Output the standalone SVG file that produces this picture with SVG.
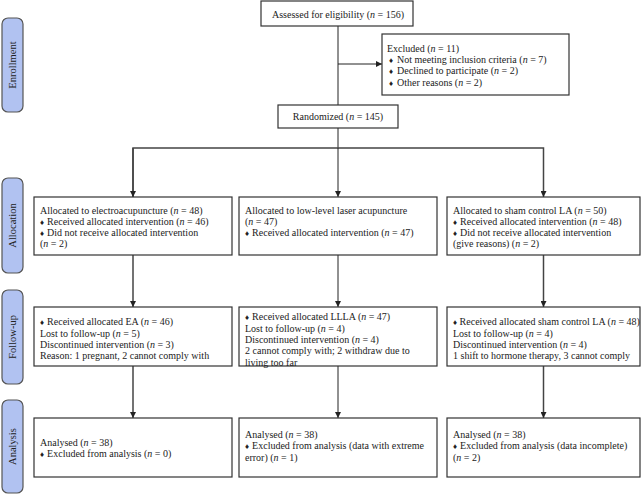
<svg xmlns="http://www.w3.org/2000/svg" width="644" height="495" viewBox="0 0 644 495">
<defs>
<marker id="ah" viewBox="0 0 10 10" refX="10" refY="5" markerWidth="6" markerHeight="6" markerUnits="userSpaceOnUse" orient="auto">
<path d="M0,0 L10,5 L0,10 z" fill="#222"/>
</marker>
<style>
.box{fill:#fff;stroke:#333;stroke-width:1.2}
.lab{fill:#b1c2f1;stroke:#555;stroke-width:1.2}
.t{font-family:"Liberation Serif","Times New Roman",serif;font-size:10px;fill:#222}
.lt{font-family:"Liberation Serif","Times New Roman",serif;font-size:10.5px;fill:#222}
.i{font-style:italic}
.d{font-size:8px}
.c{stroke:#222;stroke-width:1;fill:none}
.co{stroke:#444;stroke-width:1.5;fill:none}
</style>
</defs>
<rect width="644" height="495" fill="#fff"/>

<g id="label-enrollment"><rect class="lab" x="2" y="18" width="21" height="94" rx="6"/><text class="lt" transform="translate(16,65) rotate(-90)" text-anchor="middle">Enrollment</text></g>
<g id="label-allocation"><rect class="lab" x="2" y="178" width="21" height="95" rx="6"/><text class="lt" transform="translate(16,225.5) rotate(-90)" text-anchor="middle">Allocation</text></g>
<g id="label-followup"><rect class="lab" x="2" y="290" width="21" height="94" rx="6"/><text class="lt" transform="translate(16,337) rotate(-90)" text-anchor="middle">Follow-up</text></g>
<g id="label-analysis"><rect class="lab" x="2" y="400" width="21" height="93" rx="6"/><text class="lt" transform="translate(16,446.5) rotate(-90)" text-anchor="middle">Analysis</text></g>

<g id="connectors">
<path class="c" d="M338,26 V105"/>
<path class="c" d="M338,64 H382" marker-end="url(#ah)"/>
<path class="c" d="M338,128 V148"/>
<path class="co" d="M133,197 V148 H543.5 V197" marker-end="url(#ah)"/>
<path class="co" d="M133,148 V197" marker-end="url(#ah)"/>
<path class="c" d="M338,148 V197" marker-end="url(#ah)"/>
<path class="co" d="M133,255 V307" marker-end="url(#ah)"/>
<path class="c" d="M338,255 V307" marker-end="url(#ah)"/>
<path class="co" d="M543.5,255 V307" marker-end="url(#ah)"/>
<path class="co" d="M133,366 V418" marker-end="url(#ah)"/>
<path class="c" d="M338,366 V418" marker-end="url(#ah)"/>
<path class="co" d="M543.5,366 V418" marker-end="url(#ah)"/>
</g>

<g id="assessed"><rect class="box" x="261" y="1" width="152" height="25"/><text class="t" x="338" y="17.5" text-anchor="middle">Assessed for eligibility (<tspan class="i">n</tspan> = 156)</text></g>

<g id="excluded"><rect class="box" x="382" y="34" width="187" height="61"/>
<text class="t" x="387" y="52">Excluded (<tspan class="i">n</tspan> = 11)</text>
<text class="t" x="389" y="63"><tspan class="d">♦ </tspan><tspan dx="2">Not meeting inclusion criteria (</tspan><tspan class="i">n</tspan> = 7)</text>
<text class="t" x="389" y="74"><tspan class="d">♦ </tspan><tspan dx="2">Declined to participate (</tspan><tspan class="i">n</tspan> = 2)</text>
<text class="t" x="389" y="85.5"><tspan class="d">♦ </tspan><tspan dx="2">Other reasons (</tspan><tspan class="i">n</tspan> = 2)</text>
</g>

<g id="randomized"><rect class="box" x="278" y="105" width="120" height="23"/><text class="t" x="338" y="120" text-anchor="middle">Randomized (<tspan class="i">n</tspan> = 145)</text></g>

<g id="alloc-ea"><rect class="box" x="34" y="197" width="198" height="58"/>
<text class="t" x="40" y="213.5">Allocated to electroacupuncture (<tspan class="i">n</tspan> = 48)</text>
<text class="t" x="40" y="224.5"><tspan class="d">♦ </tspan><tspan dx="1">Received allocated intervention (</tspan><tspan class="i">n</tspan> = 46)</text>
<text class="t" x="40" y="235.5"><tspan class="d">♦ </tspan><tspan dx="1">Did not receive allocated intervention</tspan></text>
<text class="t" x="40" y="246.5">(<tspan class="i">n</tspan> = 2)</text>
</g>
<g id="alloc-llla"><rect class="box" x="239" y="197" width="198" height="58"/>
<text class="t" x="245" y="213.5">Allocated to low-level laser acupuncture</text>
<text class="t" x="245" y="224.5">(<tspan class="i">n</tspan> = 47)</text>
<text class="t" x="245" y="235.5"><tspan class="d">♦ </tspan><tspan dx="1">Received allocated intervention (</tspan><tspan class="i">n</tspan> = 47)</text>
</g>
<g id="alloc-sham"><rect class="box" x="447" y="197" width="193" height="58"/>
<text class="t" x="453" y="213.5">Allocated to sham control LA (<tspan class="i">n</tspan> = 50)</text>
<text class="t" x="453" y="224.5"><tspan class="d">♦ </tspan><tspan dx="1">Received allocated intervention (</tspan><tspan class="i">n</tspan> = 48)</text>
<text class="t" x="453" y="235.5"><tspan class="d">♦ </tspan><tspan dx="1">Did not receive allocated intervention</tspan></text>
<text class="t" x="453" y="246.5">(give reasons) (<tspan class="i">n</tspan> = 2)</text>
</g>

<g id="follow-ea"><rect class="box" x="34" y="307" width="198" height="59"/>
<text class="t" x="40" y="325"><tspan class="d">♦ </tspan><tspan dx="1">Received allocated EA (</tspan><tspan class="i">n</tspan> = 46)</text>
<text class="t" x="40" y="336.5">Lost to follow-up (<tspan class="i">n</tspan> = 5)</text>
<text class="t" x="40" y="348">Discontinued intervention (<tspan class="i">n</tspan> = 3)</text>
<text class="t" x="40" y="359">Reason: 1 pregnant, 2 cannot comply with</text>
</g>
<g id="follow-llla"><rect class="box" x="239" y="307" width="198" height="59"/>
<text class="t" x="245" y="320"><tspan class="d">♦ </tspan><tspan dx="1">Received allocated LLLA (</tspan><tspan class="i">n</tspan> = 47)</text>
<text class="t" x="245" y="331.5">Lost to follow-up (<tspan class="i">n</tspan> = 4)</text>
<text class="t" x="245" y="343">Discontinued intervention (<tspan class="i">n</tspan> = 4)</text>
<text class="t" x="245" y="354">2 cannot comply with; 2 withdraw due to</text>
<text class="t" x="245" y="365.5">living too far</text>
</g>
<g id="follow-sham"><rect class="box" x="447" y="307" width="193" height="59"/>
<text class="t" x="453" y="325"><tspan class="d">♦ </tspan><tspan dx="0.5">Received allocated sham control LA (</tspan><tspan class="i">n</tspan> = 48)</text>
<text class="t" x="453" y="336.5">Lost to follow-up (<tspan class="i">n</tspan> = 4)</text>
<text class="t" x="453" y="348">Discontinued intervention (<tspan class="i">n</tspan> = 4)</text>
<text class="t" x="453" y="359">1 shift to hormone therapy, 3 cannot comply</text>
</g>

<g id="analysis-ea"><rect class="box" x="34" y="418" width="198" height="59"/>
<text class="t" x="40" y="445.5">Analysed (<tspan class="i">n</tspan> = 38)</text>
<text class="t" x="40" y="457"><tspan class="d">♦ </tspan><tspan dx="1">Excluded from analysis (</tspan><tspan class="i">n</tspan> = 0)</text>
</g>
<g id="analysis-llla"><rect class="box" x="239" y="418" width="198" height="59"/>
<text class="t" x="245" y="437.5">Analysed (<tspan class="i">n</tspan> = 38)</text>
<text class="t" x="245" y="449"><tspan class="d">♦ </tspan><tspan dx="1">Excluded from analysis (data with extreme</tspan></text>
<text class="t" x="245" y="460.5">error) (<tspan class="i">n</tspan> = 1)</text>
</g>
<g id="analysis-sham"><rect class="box" x="447" y="418" width="193" height="59"/>
<text class="t" x="453" y="437.5">Analysed (<tspan class="i">n</tspan> = 38)</text>
<text class="t" x="453" y="449"><tspan class="d">♦ </tspan><tspan dx="1">Excluded from analysis (data incomplete)</tspan></text>
<text class="t" x="453" y="460.5">(<tspan class="i">n</tspan> = 2)</text>
</g>
</svg>
